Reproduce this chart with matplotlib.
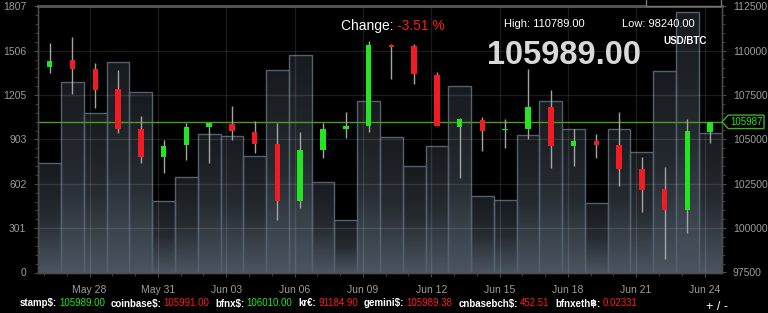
import numpy as np
import matplotlib
matplotlib.use("Agg")
import matplotlib.pyplot as plt
from matplotlib.colors import LinearSegmentedColormap
from matplotlib.path import Path
from matplotlib.patches import Rectangle
from matplotlib.ticker import FixedLocator

plt.rcParams['font.family'] = ['Liberation Sans', 'DejaVu Sans']

# ---------------- data ----------------
candle_dates = ['2025-05-26', '2025-05-27', '2025-05-28', '2025-05-29', '2025-05-30',
                '2025-05-31', '2025-06-01', '2025-06-02', '2025-06-03', '2025-06-04',
                '2025-06-05', '2025-06-06', '2025-06-07', '2025-06-08', '2025-06-09',
                '2025-06-10', '2025-06-11', '2025-06-12', '2025-06-13', '2025-06-14',
                '2025-06-15', '2025-06-16', '2025-06-17', '2025-06-18', '2025-06-19',
                '2025-06-20', '2025-06-21', '2025-06-22', '2025-06-23', '2025-06-24']
opens = [109100, 109480, 108970, 107830, 105590, 104000, 104690, 105690, 105890, 105420,
         104730, 101555, 104410, 105610, 105780, 110300, 110280, 108650, 105720, 106100,
         105500, 105610, 106850, 104630, 104920, 104670, 103340, 102210, 101000, 105440]
highs = [110450, 110790, 109310, 108910, 106340, 104970, 105910, 105915, 106870, 106060,
         105945, 105440, 105945, 106550, 110560, 110380, 110380, 108820, 106195, 106250,
         106170, 108970, 107790, 105575, 105295, 106550, 104030, 103415, 106140, 105990]
lows = [108760, 107545, 106790, 105385, 103660, 103130, 103845, 103695, 104970, 104225,
        100430, 101160, 103975, 105070, 105405, 108390, 108110, 105745, 102815, 104370,
        104540, 105030, 103410, 103525, 103975, 102345, 100935, 98255, 99720, 104785]
closes = [109440, 108970, 107790, 105575, 104015, 104650, 105720, 105910, 105460, 104750,
          101555, 104410, 105610, 105780, 110300, 110230, 108700, 105745, 106140, 105480,
          105610, 106810, 104600, 104920, 104690, 103340, 102155, 101030, 105480, 105989]
volumes = [740, 1296, 1081, 1431, 1226, 485, 650, 942, 927, 793,
           1375, 1475, 614, 356, 1164, 922, 723, 859, 1268, 521,
           490, 936, 1161, 974, 470, 974, 818, 1366, 1769, 949]

tick_dates = ['2025-05-28', '2025-05-31', '2025-06-03', '2025-06-06', '2025-06-09',
              '2025-06-12', '2025-06-15', '2025-06-18', '2025-06-21', '2025-06-24']
tick_labels = ['May 28', 'May 31', 'Jun 03', 'Jun 06', 'Jun 09',
               'Jun 12', 'Jun 15', 'Jun 18', 'Jun 21', 'Jun 24']
vol_ticks = [0, 301, 602, 903, 1205, 1506, 1807]
price_ticks = [97500, 100000, 102500, 105000, 107500, 110000, 112500]
last_price = 105987

change_pct = "-3.51 %"
high_24h = "110789.00"
low_24h = "98240.00"
big_price = "105989.00"
pair = "USD/BTC"

ticker_labels = ['stamp$:', 'coinbase$:', 'bfnx$:', 'kr€:', 'gemini$:', 'cnbasebch$:', 'bfnxeth฿:']
ticker_values = ['105989.00', '105991.00', '106010.00', '91184.90', '105989.38', '452.51', '0.02331']
ticker_up = [True, False, True, False, False, False, False]

# ---------------- style ----------------
W, H = 768, 313
GREEN = '#22e622'
RED = '#f01c24'
WICK = '#a4a4a4'
AXTXT = '#9c9c9c'
SPINE = '#4a4a4a'

fig = plt.figure(figsize=(W / 100, H / 100), dpi=100, facecolor='black')
ax = fig.add_axes([38.3 / W, 1 - 272.5 / H, (721.6 - 38.3) / W, (272.5 - 6.2) / H])
ax.set_facecolor('black')
ax2 = ax.twinx()

n = len(candle_dates)
xs = np.arange(n)
base = np.datetime64(candle_dates[0])
tick_x = [(np.datetime64(d) - base).astype(int) - 0.25 for d in tick_dates]

# volume bars with per-bar vertical gradient
cmap = LinearSegmentedColormap.from_list('volgrad', ['#171a1e', '#262b31', '#4a5561'])
grad = np.linspace(0, 1, 128).reshape(-1, 1)
for x, v in zip(xs, volumes):
    ax.imshow(grad, cmap=cmap, aspect='auto', origin='upper',
              extent=(x - 0.5, x + 0.5, 0, v), zorder=1, interpolation='bilinear')
ax.bar(xs, volumes, width=1.0, fill=False, edgecolor='#53606d', linewidth=1.0, zorder=1.5)

ax.set_xlim(-0.5, n - 0.5)
ax.set_ylim(0, vol_ticks[-1])
ax2.set_ylim(price_ticks[0], price_ticks[-1])

# grid (drawn over the volume bars, translucent)
ax.set_axisbelow(False)
ax.xaxis.set_major_locator(FixedLocator(tick_x))
ax.set_xticklabels(tick_labels)
ax.xaxis.set_minor_locator(FixedLocator([x - 0.25 for x in xs if x - 0.25 > -0.5]))
ax.set_yticks(vol_ticks)
ax.set_yticklabels([str(v) for v in vol_ticks])
ax.yaxis.set_minor_locator(FixedLocator(list(np.arange(0, vol_ticks[-1] + 1, 60.2))))
ax.grid(True, which='major', color='white', alpha=0.11, linewidth=1.0, zorder=2.5)

ax2.set_yticks(price_ticks)
ax2.set_yticklabels([str(p) for p in price_ticks])
ax2.yaxis.set_minor_locator(FixedLocator(list(range(price_ticks[0], price_ticks[-1] + 1, 500))))

for a in (ax, ax2):
    for s in a.spines.values():
        s.set_color(SPINE)
        s.set_linewidth(1.0)
    a.spines['top'].set_linewidth(1.8)
    a.spines['top'].set_color('#555555')
ax.tick_params(axis='both', which='major', colors=SPINE, labelcolor=AXTXT,
               labelsize=7.5, length=3)
ax.tick_params(axis='both', which='minor', colors=SPINE, length=2)
ax.tick_params(axis='y', pad=5.5)
ax.tick_params(axis='x', pad=6)
ax2.tick_params(axis='y', which='major', colors=SPINE, labelcolor=AXTXT,
                labelsize=7.5, length=3, pad=5)
ax2.tick_params(axis='y', which='minor', colors=SPINE, length=2)

# current price line
ax2.axhline(last_price, color='#4c9c1e', linewidth=1.0, zorder=1)

# candles
for x, o, h, l, c in zip(xs, opens, highs, lows, closes):
    col = GREEN if c >= o else RED
    ax2.vlines(x, l, h, color=WICK, linewidth=1.0, zorder=2)
    ax2.bar(x, max(abs(c - o), 60), bottom=min(o, c), width=0.24, color=col,
            linewidth=0, zorder=3)


# price tag on the right axis
def tag_box(x0, y0, width, height, mutation_size):
    pad = mutation_size * 0.18
    x0 -= pad
    y0 -= pad
    width += 2 * pad
    height += 2 * pad
    x1, y1 = x0 + width, y0 + height
    tip = height * 0.45
    verts = [(x0, y0), (x1, y0), (x1, y1), (x0, y1), (x0 - tip, (y0 + y1) / 2), (x0, y0)]
    return Path(verts, closed=True)


ax2.annotate(str(last_price), xy=(1.0, last_price), xycoords=('axes fraction', 'data'),
             xytext=(6, 0), textcoords='offset points', ha='left', va='center',
             fontsize=7, color=GREEN, annotation_clip=False, zorder=10,
             bbox=dict(boxstyle=tag_box, facecolor='black', edgecolor='#3fae1f', linewidth=1.0))


def fx(px):
    return px / W


def fy(py):
    return 1 - py / H


# header texts
t = fig.text(fx(340.7), fy(30), "Change: ", color='white', fontsize=10, va='baseline')
fig.canvas.draw()
r = fig.canvas.get_renderer()
x_end = t.get_window_extent(r).x1
fig.text(x_end / W, fy(30), change_pct, color='#ff1a1a', fontsize=10, va='baseline')
fig.text(fx(504), fy(26.7), "High: " + high_24h, color='white', fontsize=8, va='baseline')
fig.text(fx(622), fy(26.7), "Low: " + low_24h, color='white', fontsize=8, va='baseline')
fig.text(fx(487), fy(64), big_price, color='#d9d9d9', fontsize=23.5, fontweight='bold',
         va='baseline')
fig.text(fx(663), fy(44.3), pair, color='white', fontsize=7, fontweight='bold', va='baseline')

# dropdown box at top right (partly outside the figure)
fig.patches.append(Rectangle((fx(646), fy(6)), (721 - 646) / W, 20 / H, transform=fig.transFigure,
                             facecolor='black', edgecolor='#777777', linewidth=1.0, zorder=5))

# ticker strip
xpos = 19.6
for lab, val, up in zip(ticker_labels, ticker_values, ticker_up):
    tl = fig.text(fx(xpos), fy(306.5), lab, color='white', fontsize=7, fontweight='bold',
                  va='baseline')
    xpos = tl.get_window_extent(r).x1 + 2.0
    tv = fig.text(fx(xpos), fy(306.5), val, color=GREEN if up else '#ff1a1a', fontsize=7,
                  va='baseline')
    xpos = tv.get_window_extent(r).x1 + 6.0

fig.text(fx(706), fy(309.5), "+ / -", color='white', fontsize=9, va='baseline')

fig.savefig('out.png', dpi=100, facecolor='black')
